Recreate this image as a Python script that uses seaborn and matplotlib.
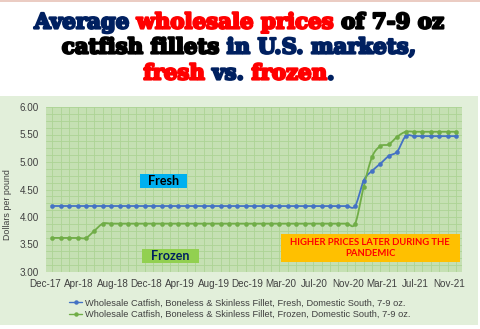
import numpy as np
import pandas as pd
import matplotlib
matplotlib.use("Agg")
import matplotlib.pyplot as plt
import matplotlib.transforms as mtransforms
import matplotlib.patheffects as pe
from matplotlib.lines import Line2D
from matplotlib.patches import Rectangle
from matplotlib.ticker import MultipleLocator, FixedLocator, FuncFormatter
import seaborn as sns

# ---------------------------------------------------------------- data
tick_labels = ["Dec-17", "Apr-18", "Aug-18", "Dec-18", "Apr-19", "Aug-19",
               "Dec-19", "Mar-20", "Jul-20", "Nov-20", "Mar-21", "Jul-21",
               "Nov-21"]

fresh_prices = [
    4.20, 4.20, 4.20, 4.20, 4.20, 4.20, 4.20, 4.20, 4.20, 4.20,
    4.20, 4.20, 4.20, 4.20, 4.20, 4.20, 4.20, 4.20, 4.20, 4.20,
    4.20, 4.20, 4.20, 4.20, 4.20, 4.20, 4.20, 4.20, 4.20, 4.20,
    4.20, 4.20, 4.20, 4.20, 4.20, 4.20, 4.20, 4.66, 4.84, 4.97,
    5.11, 5.19, 5.47, 5.47, 5.47, 5.47, 5.47, 5.47, 5.47,
]

frozen_prices = [
    3.62, 3.62, 3.62, 3.62, 3.62, 3.75, 3.88, 3.88, 3.88, 3.88,
    3.88, 3.88, 3.88, 3.88, 3.88, 3.88, 3.88, 3.88, 3.88, 3.88,
    3.88, 3.88, 3.88, 3.88, 3.88, 3.88, 3.88, 3.88, 3.88, 3.88,
    3.88, 3.88, 3.88, 3.88, 3.88, 3.88, 3.88, 4.54, 5.09, 5.29,
    5.32, 5.46, 5.55, 5.55, 5.55, 5.55, 5.55, 5.55, 5.55,
]

series_names = [
    "Wholesale Catfish, Boneless & Skinless Fillet, Fresh, Domestic South, 7-9 oz.",
    "Wholesale Catfish, Boneless & Skinless Fillet, Frozen, Domestic South, 7-9 oz.",
]

BLUE = "#4472C4"
GREEN = "#70AD47"
NAVY = "#002060"
RED = "#FF0000"
TEXT_GREY = "#404040"

W, H, DPI = 480, 329, 100


def smooth_curve(y, steps=12):
    """Bezier smoothing through every point (spreadsheet-style smoothed line)."""
    y = np.asarray(y, float)
    x = np.arange(len(y), dtype=float)
    pts = np.column_stack([x, y])
    n = len(pts)
    out = []
    t = np.linspace(0, 1, steps, endpoint=False)[:, None]
    for i in range(n - 1):
        p0 = pts[i]
        p3 = pts[i + 1]
        pm = pts[i - 1] if i > 0 else pts[i]
        pn = pts[i + 2] if i + 2 < n else pts[i + 1]
        p1 = p0 + (p3 - pm) / 6.0
        p2 = p3 - (pn - p0) / 6.0
        seg = ((1 - t) ** 3) * p0 + 3 * ((1 - t) ** 2) * t * p1 \
            + 3 * (1 - t) * t ** 2 * p2 + t ** 3 * p3
        out.append(seg)
    out.append(pts[-1:])
    out = np.vstack(out)
    return out[:, 0], out[:, 1]


sns.set_theme(style="white")
plt.rcParams["font.family"] = ["Liberation Sans", "DejaVu Sans"]

fig = plt.figure(figsize=(W / DPI, H / DPI), dpi=DPI, facecolor="white")

# chart-area background band and thin top rule
fig.patches.append(Rectangle((0, 1 - 325 / H), 478 / W, (325 - 96) / H,
                             transform=fig.transFigure, facecolor="#E2EFDA",
                             edgecolor="none", zorder=-5))
fig.add_artist(Line2D([0, 1], [1 - 0.8 / H, 1 - 0.8 / H], transform=fig.transFigure,
                      color="#E8C2B8", lw=1.2))

ax = fig.add_axes([46 / W, 1 - 272 / H, (462 - 46) / W, (272 - 107) / H])
ax.set_facecolor("#C5E0B3")

idx = np.arange(len(fresh_prices))
df = pd.DataFrame({"idx": idx, "fresh": fresh_prices, "frozen": frozen_prices})

for col, color in (("fresh", BLUE), ("frozen", GREEN)):
    sx, sy = smooth_curve(df[col].values)
    sns.lineplot(x=sx, y=sy, ax=ax, color=color, lw=1.3, sort=False,
                 estimator=None, zorder=3)
    sns.scatterplot(data=df, x="idx", y=col, ax=ax, color=color, s=9,
                    edgecolor=color, linewidth=0.3, zorder=4, legend=False)

ax.set_xlim(-0.75, len(idx) - 1 + 0.7)
ax.set_ylim(3.0, 6.0)

# grid
ax.xaxis.set_minor_locator(MultipleLocator(1))
ax.yaxis.set_major_locator(MultipleLocator(0.5))
ax.yaxis.set_minor_locator(MultipleLocator(0.125))
ax.grid(True, which="both", color="#ADD395", lw=0.6)
ax.set_axisbelow(True)
for sp in ax.spines.values():
    sp.set_visible(False)

ax.xaxis.set_major_locator(FixedLocator(idx[::4]))
ax.set_xticklabels(tick_labels)
ax.yaxis.set_major_formatter(FuncFormatter(lambda v, p: f"{v:.2f}"))
ax.tick_params(axis="both", which="both", length=0, labelsize=7.1,
               labelcolor=TEXT_GREY)
ax.tick_params(axis="x", pad=5)
ax.tick_params(axis="y", pad=5)
shift = mtransforms.ScaledTranslation(-7 / DPI, 0, fig.dpi_scale_trans)
for lab in ax.get_xticklabels():
    lab.set_transform(lab.get_transform() + shift)

ax.set_xlabel("")
ax.set_ylabel("Dollars per pound", fontsize=6.4, color=TEXT_GREY)
ax.yaxis.set_label_coords(-34 / (462 - 46), 0.41)

# annotation boxes
def label_box(x0, y0, x1, y1, fc, text, tc, size):
    ax.add_patch(Rectangle((x0, y0), x1 - x0, y1 - y0, transform=ax.transAxes,
                           facecolor=fc, edgecolor="none", zorder=5))
    ax.text((x0 + x1) / 2, (y0 + y1) / 2, text,
            transform=ax.transAxes, ha="center", va="center", color=tc,
            fontsize=size, fontweight="bold", family=["Lato", "DejaVu Sans"],
            zorder=6, linespacing=1.3)

label_box(0.226, 0.509, 0.339, 0.594, "#00B0F0", "Fresh", "black", 9.0)
label_box(0.230, 0.055, 0.368, 0.139, "#92D050", "Frozen", NAVY, 9.0)
label_box(0.564, 0.059, 0.995, 0.232, "#FFC000",
          "HIGHER PRICES LATER DURING THE\nPANDEMIC", RED, 6.8)

# legend
handles = [Line2D([], [], color=BLUE, lw=1.0, marker="o", markersize=2.2),
           Line2D([], [], color=GREEN, lw=1.0, marker="o", markersize=2.2)]
fig.legend(handles, series_names, loc="center", bbox_to_anchor=(0.5, 1 - 308.8 / H),
           frameon=False, fontsize=6.7, handlelength=1.4, handletextpad=0.3,
           labelspacing=0.3, labelcolor=TEXT_GREY, borderpad=0)

# multi-coloured title
TITLE_FONT = ["DejaVu Serif"]
title_lines = [
    ([("Average", NAVY), ("wholesale prices", RED), ("of 7-9 oz", "black")], 28.5),
    ([("catfish fillets", "black"), ("in U.S. markets,", NAVY)], 53.5),
    ([("fresh", RED), ("vs.", NAVY), ("frozen", RED), (".", NAVY)], 79.5),
]
renderer = fig.canvas.get_renderer()


def text_width(s, size):
    t = fig.text(0, 0, s, fontsize=size, family=TITLE_FONT, fontweight="bold")
    w = t.get_window_extent(renderer).width
    t.remove()
    return w


def line_width(pieces, size, joins):
    total = sum(text_width(s, size) for s, _ in pieces)
    sp = text_width("a a", size) - text_width("aa", size)
    return total + sp * sum(joins)


def joins_for(pieces):
    # no gap before the closing full stop
    return [0 if nxt == "." else 1 for (nxt, _) in pieces[1:]]


base = 16.0
w1 = line_width(title_lines[0][0], base, joins_for(title_lines[0][0]))
tsize = base * 410.0 / w1
space = text_width("a a", tsize) - text_width("aa", tsize)

for pieces, baseline in title_lines:
    joins = joins_for(pieces)
    widths = [text_width(s, tsize) for s, _ in pieces]
    total = sum(widths) + space * sum(joins)
    x = (W - total) / 2.0 - 1
    for k, ((s, c), w) in enumerate(zip(pieces, widths)):
        fig.text(x / W, 1 - baseline / H, s, fontsize=tsize, family=TITLE_FONT,
                 fontweight="bold", color=c, ha="left", va="baseline",
                 path_effects=[pe.withStroke(linewidth=1.6, foreground=c)])
        x += w + (space * joins[k] if k < len(joins) else 0)

fig.savefig("out.png", dpi=DPI, facecolor="white")
